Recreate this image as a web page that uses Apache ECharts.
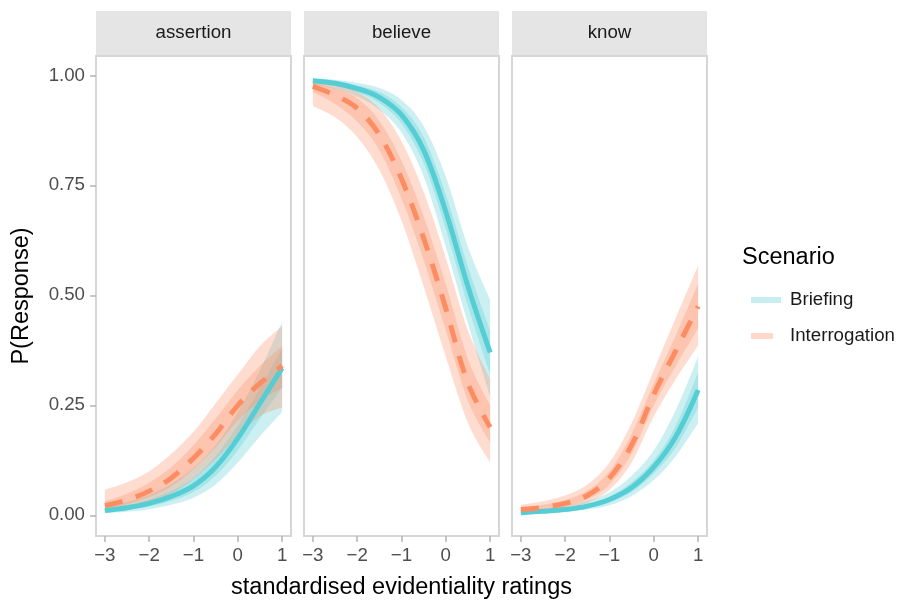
<!DOCTYPE html>
<html>
<head>
<meta charset="utf-8">
<script src="https://cdn.jsdelivr.net/npm/echarts@6/dist/echarts.min.js"></script>
<style>
  html, body { margin: 0; padding: 0; background: #fff; }
  #chart { width: 900px; height: 601px; }
</style>
</head>
<body>
<div id="chart"></div>
<script>
// evidentiality rating grid (standardised)
const xs = [-3, -2.5, -2, -1.5, -1, -0.5, 0, 0.5, 1]
const facets = ['assertion', 'believe', 'know']
const xTicks = [-3, -2, -1, 0, 1]
const yTicks = [0, 0.25, 0.5, 0.75, 1]

// assertion
const assertionBrfMean = [0.011, 0.017, 0.027, 0.043, 0.067, 0.11, 0.175, 0.255, 0.335]
const assertionBrfLo50 = [0.008, 0.012, 0.020, 0.033, 0.053, 0.09, 0.148, 0.22, 0.29]
const assertionBrfHi50 = [0.015, 0.023, 0.036, 0.056, 0.085, 0.135, 0.205, 0.29, 0.38]
const assertionBrfLo95 = [0.005, 0.008, 0.014, 0.024, 0.04, 0.07, 0.12, 0.18, 0.235]
const assertionBrfHi95 = [0.021, 0.031, 0.047, 0.072, 0.108, 0.16, 0.235, 0.33, 0.44]
const assertionIntMean = [0.022, 0.035, 0.055, 0.085, 0.13, 0.185, 0.25, 0.30, 0.34]
const assertionIntLo50 = [0.015, 0.025, 0.041, 0.066, 0.105, 0.155, 0.215, 0.26, 0.29]
const assertionIntHi50 = [0.032, 0.049, 0.074, 0.11, 0.16, 0.22, 0.285, 0.34, 0.385]
const assertionIntLo95 = [0.010, 0.017, 0.030, 0.050, 0.083, 0.128, 0.18, 0.225, 0.245]
const assertionIntHi95 = [0.058, 0.075, 0.10, 0.14, 0.19, 0.255, 0.32, 0.385, 0.43]

// believe
const believeBrfMean = [0.988, 0.982, 0.97, 0.95, 0.91, 0.83, 0.69, 0.52, 0.37]
const believeBrfLo50 = [0.984, 0.976, 0.962, 0.937, 0.89, 0.80, 0.65, 0.475, 0.32]
const believeBrfHi50 = [0.991, 0.987, 0.977, 0.962, 0.928, 0.86, 0.73, 0.565, 0.42]
const believeBrfLo95 = [0.979, 0.969, 0.952, 0.922, 0.87, 0.77, 0.61, 0.435, 0.27]
const believeBrfHi95 = [0.994, 0.99, 0.983, 0.971, 0.944, 0.885, 0.77, 0.61, 0.49]
const believeIntMean = [0.975, 0.955, 0.925, 0.865, 0.765, 0.63, 0.47, 0.30, 0.20]
const believeIntLo50 = [0.962, 0.935, 0.895, 0.83, 0.72, 0.58, 0.42, 0.26, 0.165]
const believeIntHi50 = [0.984, 0.97, 0.948, 0.897, 0.806, 0.68, 0.525, 0.355, 0.25]
const believeIntLo95 = [0.93, 0.905, 0.86, 0.785, 0.67, 0.52, 0.36, 0.21, 0.12]
const believeIntHi95 = [0.992, 0.98, 0.963, 0.925, 0.85, 0.735, 0.585, 0.42, 0.31]

// know
const knowBrfMean = [0.006, 0.009, 0.013, 0.021, 0.036, 0.063, 0.11, 0.18, 0.285]
const knowBrfLo50 = [0.004, 0.007, 0.010, 0.017, 0.029, 0.053, 0.095, 0.155, 0.245]
const knowBrfHi50 = [0.008, 0.012, 0.017, 0.026, 0.042, 0.075, 0.125, 0.205, 0.325]
const knowBrfLo95 = [0.003, 0.005, 0.008, 0.013, 0.023, 0.044, 0.08, 0.135, 0.209]
const knowBrfHi95 = [0.010, 0.015, 0.022, 0.033, 0.052, 0.09, 0.148, 0.24, 0.361]
const knowIntMean = [0.013, 0.018, 0.027, 0.045, 0.085, 0.16, 0.275, 0.375, 0.475]
const knowIntLo50 = [0.010, 0.014, 0.021, 0.036, 0.07, 0.14, 0.25, 0.34, 0.425]
const knowIntHi50 = [0.017, 0.024, 0.035, 0.056, 0.10, 0.185, 0.30, 0.41, 0.527]
const knowIntLo95 = [0.007, 0.010, 0.015, 0.028, 0.058, 0.12, 0.225, 0.31, 0.386]
const knowIntHi95 = [0.024, 0.032, 0.045, 0.07, 0.12, 0.21, 0.33, 0.45, 0.568]

const panels = [
  { brf: [assertionBrfMean, assertionBrfLo50, assertionBrfHi50, assertionBrfLo95, assertionBrfHi95],
    int: [assertionIntMean, assertionIntLo50, assertionIntHi50, assertionIntLo95, assertionIntHi95] },
  { brf: [believeBrfMean, believeBrfLo50, believeBrfHi50, believeBrfLo95, believeBrfHi95],
    int: [believeIntMean, believeIntLo50, believeIntHi50, believeIntLo95, believeIntHi95] },
  { brf: [knowBrfMean, knowBrfLo50, knowBrfHi50, knowBrfLo95, knowBrfHi95],
    int: [knowIntMean, knowIntLo50, knowIntHi50, knowIntLo95, knowIntHi95] },
]

const FONT = '"Liberation Sans", Arial, Helvetica, sans-serif'
const TEAL = '85,205,212'
const SALMON = '252,141,98'
const panelLeft = [96, 304, 512]
const panelW = 195
const panelTop = 56
const panelH = 480

// catmull-rom style bezier through screen points
function curve(p, joined) {
  let d = (joined ? 'L' : 'M') + p[0][0] + ',' + p[0][1]
  for (let i = 0; i < p.length - 1; i++) {
    const a = p[i - 1] || p[i], b = p[i], c = p[i + 1], e = p[i + 2] || c
    const c1 = [b[0] + (c[0] - a[0]) / 6, b[1] + (c[1] - a[1]) / 6]
    const c2 = [c[0] - (e[0] - b[0]) / 6, c[1] - (e[1] - b[1]) / 6]
    d += 'C' + c1.join(',') + ' ' + c2.join(',') + ' ' + c.join(',')
  }
  return d
}

function ribbon(idx, name, lo, hi, rgb) {
  const rows = xs.map((x, i) => [x, lo[i], hi[i]])
  return {
    type: 'custom', name: name + ' interval', xAxisIndex: idx, yAxisIndex: idx,
    silent: true, data: rows, encode: { x: 0, y: [1, 2] },
    renderItem(params, api) {
      if (params.dataIndex !== 0) return null
      const top = rows.map((r) => api.coord([r[0], r[2]]))
      const bot = rows.map((r) => api.coord([r[0], r[1]])).reverse()
      return {
        type: 'path',
        shape: { pathData: curve(top) + curve(bot, true) + 'Z' },
        style: { fill: 'rgba(' + rgb + ',0.3)' },
      }
    },
  }
}

function meanLine(idx, name, ys, rgb, dashed) {
  return {
    type: 'line', name, xAxisIndex: idx, yAxisIndex: idx,
    data: xs.map((x, i) => [x, ys[i]]),
    smooth: 0.35, symbol: 'none', silent: true,
    itemStyle: { color: 'rgb(' + rgb + ')' },
    lineStyle: { color: 'rgb(' + rgb + ')', width: 5, type: dashed ? [18, 14] : 'solid', cap: 'butt' },
  }
}

const series = []
panels.forEach((p, i) => {
  series.push(ribbon(i, 'Briefing', p.brf[3], p.brf[4], TEAL))
  series.push(ribbon(i, 'Briefing', p.brf[1], p.brf[2], TEAL))
  series.push(meanLine(i, 'Briefing', p.brf[0], TEAL, false))
  series.push(ribbon(i, 'Interrogation', p.int[3], p.int[4], SALMON))
  series.push(ribbon(i, 'Interrogation', p.int[1], p.int[2], SALMON))
  series.push(meanLine(i, 'Interrogation', p.int[0], SALMON, true))
})

const fmtX = (v) => (v < 0 ? '\u2212' + Math.abs(v) : String(v))

const graphics = [
  {
    type: 'text', left: 742, top: 246,
    style: { text: 'Scenario', font: '23.5px ' + FONT, fill: '#000' },
  },
  {
    type: 'text', x: 401.5, y: 588,
    style: { text: 'standardised evidentiality ratings', font: '23.5px ' + FONT, fill: '#000', align: 'center', verticalAlign: 'middle' },
  },
  {
    type: 'text', x: 22, y: 296, rotation: Math.PI / 2,
    style: { text: 'P(Response)', font: '23.5px ' + FONT, fill: '#000', align: 'center', verticalAlign: 'middle' },
  },
]
facets.forEach((f, i) => {
  graphics.push({
    type: 'rect', left: panelLeft[i], top: 11,
    shape: { width: panelW, height: 44 }, style: { fill: '#e5e5e5' },
  })
  graphics.push({
    type: 'text', x: panelLeft[i] + panelW / 2, y: 33,
    style: { text: f, font: '18.7px ' + FONT, fill: '#1a1a1a', align: 'center', verticalAlign: 'middle' },
  })
})

const option = {
  animation: false,
  backgroundColor: '#fff',
  grid: panelLeft.map((l) => ({
    left: l, top: panelTop, width: panelW, height: panelH,
    show: true, borderColor: '#d6d6d6', borderWidth: 2, backgroundColor: '#fff',
  })),
  xAxis: panelLeft.map((_, i) => ({
    type: 'value', gridIndex: i, min: -3.2, max: 1.2, position: 'bottom',
    axisLine: { show: false, onZero: false }, splitLine: { show: false },
    axisTick: { show: true, inside: false, length: 6, customValues: xTicks, lineStyle: { color: '#b5b5b5', width: 1.5 } },
    axisLabel: { customValues: xTicks, formatter: fmtX, fontSize: 18.7, color: '#4d4d4d', margin: 10, fontFamily: FONT },
  })),
  yAxis: panelLeft.map((_, i) => ({
    type: 'value', gridIndex: i, min: -0.047, max: 1.044, position: 'left',
    axisLine: { show: false, onZero: false }, splitLine: { show: false },
    axisTick: { show: i === 0, inside: false, length: 6, customValues: yTicks, lineStyle: { color: '#b5b5b5', width: 1.5 } },
    axisLabel: { show: i === 0, customValues: yTicks, formatter: (v) => v.toFixed(2), fontSize: 18.7, color: '#4d4d4d', margin: 11, fontFamily: FONT },
  })),
  legend: {
    orient: 'vertical', left: 746, top: 284,
    itemWidth: 30, itemHeight: 6, itemGap: 14, selectedMode: false,
    textStyle: { fontSize: 18.7, color: '#1a1a1a', fontFamily: FONT, lineHeight: 22, padding: [0, 0, 0, 4] },
    data: [
      { name: 'Briefing', icon: 'rect', itemStyle: { color: 'rgba(' + TEAL + ',0.33)', borderWidth: 0, opacity: 1 } },
      { name: 'Interrogation', icon: 'path://M0,0H22V6H0ZM30,0V6', itemStyle: { color: 'rgba(' + SALMON + ',0.33)', borderWidth: 0, opacity: 1 } },
    ],
  },
  graphic: graphics,
  series,
}

const chart = echarts.init(document.getElementById('chart'))
chart.setOption(option)
</script>
</body>
</html>
